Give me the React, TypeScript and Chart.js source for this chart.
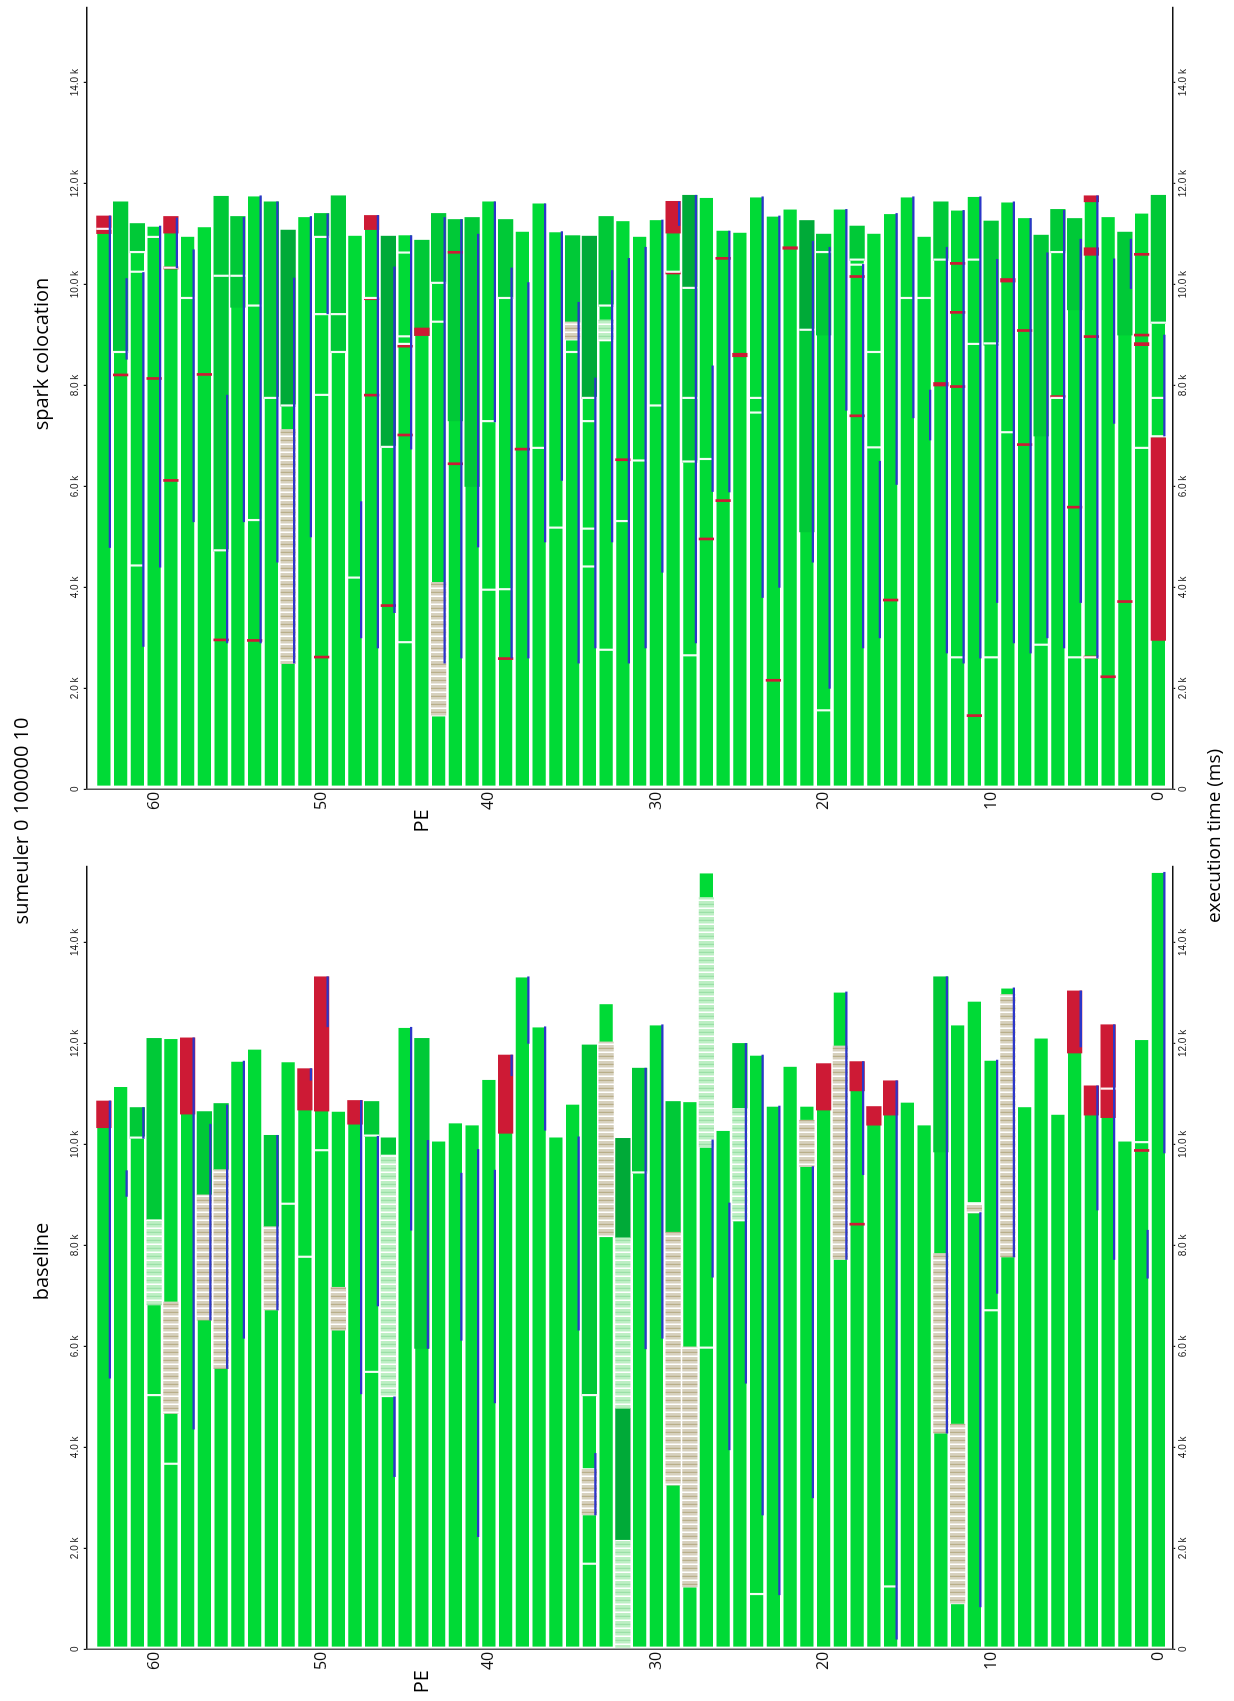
import React, { useEffect, useRef } from "react";
import { Chart, registerables } from "chart.js";

Chart.register(...registerables);

type Seg = [number, number, number];
type Mark = [number, number];

const TITLE = "sumeuler 0 100000 10";
const PANEL_TITLES = ["baseline", "spark colocation"];
const X_TITLE = "execution time (ms)";
const Y_TITLE = "PE";

const PE_TICKS = [0, 10, 20, 30, 40, 50, 60];
const TIME_TICKS = [0, 2000, 4000, 6000, 8000, 10000, 12000, 14000];
const TIME_MAX = 15500;
const PE_MIN = -0.83;
const PE_MAX = 64.03;

// ---------------- baseline ----------------
const BASE_START = 40;
const BASE_END = [
  15390, 12080, 10070, 12370, 11160, 13040, 10600, 12110, 10750, 13100,
  11670, 12840, 12370, 13320, 10390, 10840, 11260, 10750, 11640, 13020,
  11600, 10760, 11550, 10760, 11770, 12000, 10280, 15380, 10850, 10850,
  12370, 11510, 10120, 12790, 11970, 10800, 10150, 12330, 13320, 11770,
  11290, 10390, 10430, 10070, 12100, 12320, 10130, 10850, 10870, 10660,
  13320, 11500, 11640, 10180, 11890, 11650, 10810, 10650, 12110, 12100,
  12100, 10730, 11150, 10860,
];
const BASE_MID: Seg[] = [
  [61, 10120, 10730], [60, 8510, 12100], [57, 9000, 10650], [56, 9500, 10810],
  [53, 8370, 10180], [47, 10160, 10850], [46, 9760, 10130], [44, 5960, 12100],
  [34, 5020, 11970], [31, 9430, 11510], [29, 8260, 10850], [25, 10710, 12000],
  [13, 9850, 13320],
];
const BASE_DARK: Seg[] = [[32, 8150, 10120], [32, 2160, 4770]];
const BASE_RED: Seg[] = [
  [63, 10330, 10860], [58, 10600, 12110], [51, 10680, 11500], [50, 10660, 13320],
  [48, 10400, 10870], [39, 10220, 11770], [20, 10680, 11600], [18, 11060, 11640],
  [18, 8400, 8440], [17, 10380, 10750], [16, 10580, 11260], [5, 11810, 13040],
  [4, 10580, 11160], [3, 10530, 12370], [1, 9860, 9900],
];
const BASE_HATCH: Seg[] = [
  [59, 4670, 6880], [57, 6520, 9000], [56, 5560, 9500], [53, 6720, 8370],
  [49, 6320, 7170], [34, 2660, 3580], [33, 8170, 12030], [29, 3250, 8260],
  [28, 1230, 5990], [21, 9560, 10480], [19, 7720, 11950], [13, 4280, 7840],
  [12, 900, 4460], [11, 8640, 8820], [9, 7770, 12970],
];
const BASE_LIGHT: Seg[] = [
  [60, 6820, 8510], [46, 5000, 9760], [32, 4770, 8150], [32, 40, 2160],
  [27, 9940, 14890], [25, 8480, 10710],
];
const BASE_SPLIT: Mark[] = [
  [61, 10120], [60, 5020], [59, 3660], [52, 8810], [51, 7760], [50, 9870],
  [47, 10160], [47, 5480], [46, 9760], [34, 5020], [34, 1680], [31, 9430],
  [27, 5960], [24, 1080], [16, 1230], [11, 8820], [10, 6700], [3, 11090],
  [2, 10110], [1, 10030],
];
const BASE_BLUE: Seg[] = [
  [63, 5370, 10860], [62, 8970, 9480], [61, 10120, 10730], [58, 4360, 12110],
  [57, 6520, 10400], [56, 5560, 10780], [55, 6160, 11650], [53, 6720, 10180],
  [51, 11270, 11500], [50, 12330, 13320], [48, 5060, 10870], [47, 6800, 10160],
  [46, 3420, 5000], [45, 8300, 12320], [44, 5960, 10080], [42, 6120, 9430],
  [41, 2230, 9900], [40, 4880, 9490], [39, 11360, 11770], [38, 12000, 13320],
  [37, 10280, 12330], [35, 6320, 10150], [34, 2660, 3880], [31, 5950, 11510],
  [30, 6160, 12370], [27, 7370, 10090], [26, 3950, 8840], [25, 5270, 12000],
  [24, 2660, 11770], [23, 1080, 10760], [21, 3000, 9560], [19, 7720, 13020],
  [18, 9400, 11640], [16, 200, 11260], [13, 4280, 13320], [11, 840, 8650],
  [10, 7050, 11670], [9, 7770, 13100], [5, 11930, 13040], [4, 8700, 11160],
  [3, 7720, 12370], [1, 7350, 8300], [0, 9830, 15390],
];

// ---------------- spark colocation ----------------
const SPARK_START = 60;
const SPARK_END = [
  11770, 11420, 11040, 11350, 11760, 11310, 11490, 10980, 11330, 11640,
  11260, 11750, 11480, 11640, 10960, 11740, 11410, 11020, 11160, 11500,
  11000, 11270, 11500, 11360, 11740, 11040, 11080, 11730, 11770, 11650,
  11290, 10960, 11270, 11350, 10960, 10970, 11050, 11620, 11060, 11290,
  11660, 11330, 11290, 11410, 10880, 10990, 10960, 11370, 10980, 11760,
  11410, 11350, 11080, 11640, 11760, 11350, 11750, 11150, 10960, 11350,
  11160, 11210, 11640, 11360,
];
const SPARK_MID: Seg[] = [
  [62, 8650, 11640], [61, 10630, 11210], [56, 4720, 11750], [55, 9550, 11350],
  [53, 7740, 11640], [50, 10930, 11410], [49, 8650, 11760], [44, 8990, 10880],
  [43, 10020, 11410], [42, 7300, 11290], [41, 6000, 11330], [39, 9720, 11290],
  [35, 9260, 10970], [33, 9570, 11350], [28, 6480, 9920], [21, 5100, 9090],
  [20, 9000, 11000], [18, 10480, 11160], [13, 10480, 11640], [10, 8800, 11260],
  [7, 7000, 10980], [6, 10630, 11490], [5, 9500, 11310], [2, 9000, 11040],
  [0, 9230, 11770],
];
const SPARK_DARK: Seg[] = [
  [52, 7590, 11080], [46, 6770, 10960], [34, 7740, 10960], [28, 9920, 11770],
  [21, 9090, 11270],
];
const SPARK_RED: Seg[] = [
  [63, 11010, 11360], [62, 8190, 8230], [60, 8120, 8160], [59, 11020, 11350],
  [59, 10310, 10350], [59, 6100, 6140], [57, 8200, 8240], [56, 2940, 2980],
  [54, 2930, 2970], [50, 2600, 2640], [47, 11090, 11370], [47, 9700, 9740],
  [47, 7790, 7830], [46, 3620, 3660], [45, 8760, 8800], [45, 7000, 7040],
  [44, 8990, 9140], [42, 10620, 10660], [42, 6430, 6470], [39, 2570, 2610],
  [38, 6720, 6760], [32, 6510, 6550], [29, 11020, 11650], [29, 10210, 10250],
  [27, 4940, 4980], [26, 10500, 10540], [26, 5700, 5740], [25, 8570, 8640],
  [23, 2140, 2180], [22, 10700, 10750], [18, 10140, 10180], [18, 7380, 7420],
  [16, 3730, 3770], [13, 7990, 8060], [12, 10400, 10440], [12, 9430, 9470],
  [12, 7960, 8000], [11, 1440, 1480], [9, 10050, 10120], [8, 9070, 9110],
  [8, 6810, 6850], [6, 7760, 7800], [5, 5570, 5610], [4, 11640, 11760],
  [4, 10580, 10730], [4, 8950, 8990], [4, 2600, 2640], [3, 2210, 2250],
  [2, 3700, 3740], [1, 10580, 10620], [1, 8980, 9020], [1, 8790, 8850],
  [0, 2950, 6970],
];
const SPARK_HATCH: Seg[] = [[52, 2490, 7130], [43, 1450, 4100], [35, 8900, 9260]];
const SPARK_LIGHT: Seg[] = [[33, 8880, 9300]];
const SPARK_SPLIT: Mark[] = [
  [63, 11090], [62, 8650], [61, 10630], [61, 10240], [61, 4420], [60, 10930],
  [59, 10320], [58, 9720], [56, 10160], [55, 10160], [56, 4720], [54, 9570],
  [54, 5320], [53, 7740], [52, 7590], [50, 10930], [50, 9400], [50, 7800],
  [49, 9400], [49, 8650], [48, 4180], [47, 9720], [46, 6770], [45, 10620],
  [45, 8960], [45, 8810], [45, 2900], [43, 10020], [43, 9250], [40, 7280],
  [40, 3940], [39, 9720], [39, 3950], [37, 6750], [36, 5170], [35, 8650],
  [34, 7740], [34, 7280], [34, 5150], [34, 4400], [33, 9570], [33, 2750],
  [32, 5300], [31, 6500], [30, 7590], [29, 10240], [28, 9920], [28, 7740],
  [28, 6480], [28, 2640], [27, 6530], [24, 7740], [24, 7450], [21, 9090],
  [20, 10630], [20, 1550], [18, 10480], [18, 10380], [17, 8650], [17, 6760],
  [15, 9720], [14, 9720], [13, 10480], [12, 2600], [11, 10480], [11, 8810],
  [10, 8820], [10, 2600], [9, 7060], [7, 2850], [6, 10630], [6, 7740],
  [5, 2600], [4, 2600], [1, 6750], [0, 9230], [0, 7740], [0, 6980],
];
const SPARK_BLUE: Seg[] = [
  [63, 4790, 11360], [62, 8520, 10120], [61, 2830, 10240], [60, 4400, 11160],
  [59, 10330, 11320], [58, 5300, 10690], [56, 2900, 7810], [55, 5300, 11330],
  [54, 2900, 11760], [53, 4500, 11640], [52, 2500, 10130], [51, 5000, 11350],
  [50, 9420, 11400], [48, 3000, 5700], [47, 2800, 11370], [46, 3500, 10350],
  [45, 6740, 10970], [43, 2500, 11330], [42, 2600, 11290], [41, 4800, 11000],
  [40, 7280, 11640], [39, 2600, 10330], [38, 2600, 10040], [37, 4900, 11600],
  [36, 6120, 11050], [35, 2500, 9650], [34, 2800, 8150], [33, 4900, 10280],
  [32, 2500, 10520], [31, 2800, 10740], [30, 4300, 11280], [29, 11170, 11640],
  [28, 2900, 11770], [27, 5900, 8390], [26, 5890, 11060], [24, 3800, 11740],
  [23, 4000, 11360], [21, 4500, 10860], [20, 2000, 10740], [19, 7510, 11490],
  [18, 2800, 10400], [17, 3000, 6500], [16, 6040, 11410], [15, 7360, 11740],
  [14, 6920, 7910], [13, 2700, 10740], [12, 2500, 11470], [11, 2600, 11740],
  [10, 3700, 10500], [9, 2900, 11640], [8, 2700, 11310], [7, 3000, 10630],
  [6, 2800, 11470], [5, 3700, 10900], [4, 2600, 11760], [3, 7250, 10510],
  [2, 9920, 10900], [0, 7000, 9000],
];

const COLORS = {
  run: "#00DA36",
  mid: "#00C937",
  dark: "#00AA38",
  red: "#CD1A35",
  blue: "#2B36C9",
  split: "rgba(255,255,255,0.95)",
};

type Panel = {
  start: number; end: number[]; mid: Seg[]; dark: Seg[]; red: Seg[];
  hatch: Seg[]; light: Seg[]; split: Mark[]; blue: Seg[];
};

const BASELINE: Panel = {
  start: BASE_START, end: BASE_END, mid: BASE_MID, dark: BASE_DARK, red: BASE_RED,
  hatch: BASE_HATCH, light: BASE_LIGHT, split: BASE_SPLIT, blue: BASE_BLUE,
};
const SPARK: Panel = {
  start: SPARK_START, end: SPARK_END, mid: SPARK_MID, dark: SPARK_DARK, red: SPARK_RED,
  hatch: SPARK_HATCH, light: SPARK_LIGHT, split: SPARK_SPLIT, blue: SPARK_BLUE,
};

function makePattern(bg: string, line: string): CanvasPattern | string {
  const c = document.createElement("canvas");
  c.width = 8;
  c.height = 8;
  const g = c.getContext("2d");
  if (!g) return bg;
  g.fillStyle = bg;
  g.fillRect(0, 0, 8, 8);
  g.fillStyle = "#ffffff";
  g.fillRect(0, 0, 1.5, 8);
  g.fillStyle = line;
  g.fillRect(4, 0, 1.2, 8);
  return g.createPattern(c, "repeat") || bg;
}

const segData = (list: Seg[]) => list.map(([pe, s, e]) => ({ x: [s, e], y: pe }));

function buildDatasets(p: Panel, pats: { tan: any; light: any }) {
  const common = { grouped: false, barThickness: 14.6, borderSkipped: false as any };
  return [
    {
      ...common, order: 7,
      data: p.end.map((e, pe) => ({ x: [p.start, e], y: pe })),
      backgroundColor: COLORS.run, borderColor: "rgba(255,255,255,0.45)", borderWidth: 1,
    },
    { ...common, order: 6, data: segData(p.mid), backgroundColor: COLORS.mid, borderWidth: 0 },
    { ...common, order: 5, data: segData(p.dark), backgroundColor: COLORS.dark, borderWidth: 0 },
    { ...common, order: 4, data: segData(p.hatch), backgroundColor: pats.tan, borderWidth: 0 },
    { ...common, order: 3, data: segData(p.light), backgroundColor: pats.light, borderWidth: 0 },
    { ...common, order: 2, data: segData(p.red), backgroundColor: COLORS.red, borderWidth: 0 },
    {
      ...common, order: 1,
      data: p.split.map(([pe, t]) => ({ x: [t, t], y: pe })),
      backgroundColor: COLORS.split, minBarLength: 1.5, borderWidth: 0,
    },
    {
      grouped: false, barThickness: 1.6, order: 0, borderWidth: 0,
      data: p.blue.map(([pe, s, e]) => ({ x: [s, e], y: pe - 0.36 })),
      backgroundColor: COLORS.blue,
    },
  ];
}

const fmtTime = (v: any) => (Number(v) === 0 ? "0" : (Number(v) / 1000).toFixed(1) + " k");

function timeAxis(position: "top" | "bottom", h: number) {
  return {
    type: "linear",
    position,
    min: 0,
    max: TIME_MAX,
    afterBuildTicks: (s: any) => { s.ticks = TIME_TICKS.map((v) => ({ value: v })); },
    afterFit: (s: any) => { s.height = h; },
    ticks: {
      callback: fmtTime, autoSkip: false, maxRotation: 0, minRotation: 0, padding: 2,
      color: "#222", font: { family: "Liberation Sans", size: 10 },
    },
    grid: { display: true, drawOnChartArea: false, drawTicks: true, tickLength: 3, color: "#111", lineWidth: 1.2 },
    border: { display: true, color: "#111", width: 1.5 },
  };
}

function makeConfig(p: Panel, pats: any, axisW: number, padR: number): any {
  return {
    type: "bar",
    data: { datasets: buildDatasets(p, pats) },
    options: {
      animation: false,
      responsive: false,
      devicePixelRatio: 1,
      indexAxis: "y",
      layout: { padding: { left: 0, right: padR, top: 0, bottom: 0 } },
      plugins: { legend: { display: false }, tooltip: { enabled: false }, title: { display: false } },
      scales: {
        x: timeAxis("bottom", 61.7),
        x2: timeAxis("top", 86.7),
        y: {
          type: "linear",
          offset: false,
          min: PE_MIN,
          max: PE_MAX,
          afterBuildTicks: (s: any) => { s.ticks = PE_TICKS.map((v) => ({ value: v })); },
          afterFit: (s: any) => { s.width = axisW; },
          ticks: { padding: 2.5, color: "#111", font: { family: "Open Sans", size: 16 } },
          grid: { display: false, drawTicks: false },
          border: { display: true, color: "#555", width: 1.5, dash: [3.5, 3.5] },
        },
      },
    },
  };
}

function Label(props: { text: string; x: number; baseline: number; size: number }) {
  const { text, x, baseline, size } = props;
  return (
    <div
      style={{
        position: "absolute",
        left: x,
        top: baseline - 0.888 * size,
        transform: "translateX(-50%)",
        whiteSpace: "nowrap",
        fontFamily: "'Open Sans', sans-serif",
        fontSize: size,
        lineHeight: 1,
        color: "#000",
      }}
    >
      {text}
    </div>
  );
}

export default function App() {
  const leftRef = useRef<HTMLCanvasElement>(null);
  const rightRef = useRef<HTMLCanvasElement>(null);

  useEffect(() => {
    Chart.defaults.font.family = "'Open Sans', sans-serif";
    const pats = {
      tan: makePattern("#d7d1be", "#b9af8a"),
      light: makePattern("#bdefc4", "#9be0a7"),
    };
    const c1 = new Chart(leftRef.current as HTMLCanvasElement, makeConfig(BASELINE, pats, 51.7, 37.7));
    const c2 = new Chart(rightRef.current as HTMLCanvasElement, makeConfig(SPARK, pats, 39.7, 7));
    return () => {
      c1.destroy();
      c2.destroy();
    };
  }, []);

  return (
    <div style={{ position: "absolute", left: 0, top: 0, width: 1234, height: 1701, overflow: "hidden", background: "#fff" }}>
      <div
        style={{
          position: "absolute", left: 0, top: 0, width: 1701, height: 1234,
          transformOrigin: "0 0", transform: "translateY(1701px) rotate(-90deg)",
        }}
      >
        <canvas ref={leftRef} width={872} height={1234} style={{ position: "absolute", left: 0, top: 0, width: 872, height: 1234 }} />
        <canvas ref={rightRef} width={829} height={1234} style={{ position: "absolute", left: 872, top: 0, width: 829, height: 1234 }} />
        <Label text={TITLE} x={880} baseline={28.5} size={20} />
        <Label text={PANEL_TITLES[0]} x={439.5} baseline={48.5} size={20} />
        <Label text={PANEL_TITLES[1]} x={1347} baseline={48.5} size={20} />
        <Label text={X_TITLE} x={865} baseline={1221} size={19} />
        <Label text={Y_TITLE} x={19.3} baseline={429} size={20} />
        <Label text={Y_TITLE} x={880} baseline={429} size={20} />
      </div>
    </div>
  );
}
